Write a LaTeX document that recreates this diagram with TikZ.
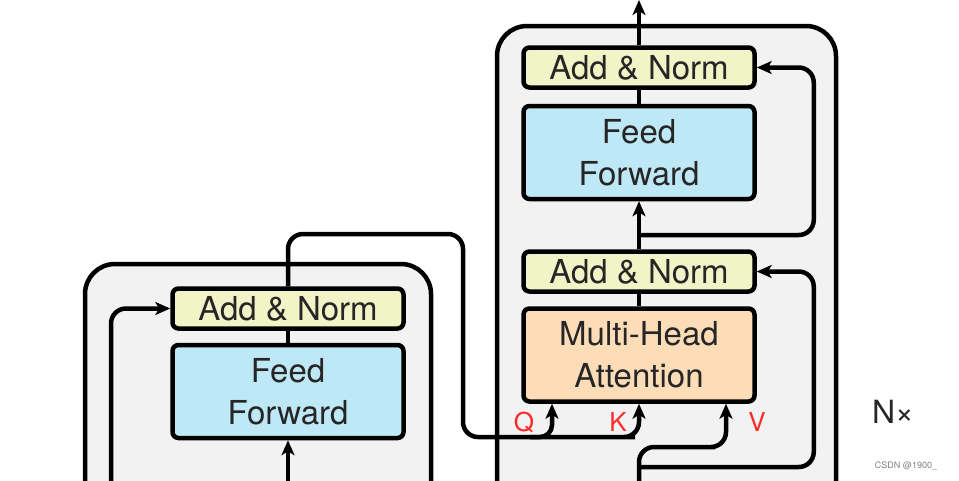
\documentclass[tikz,border=0pt]{standalone}
\usepackage{fontspec}
\setmainfont{TeX Gyre Heros}
\usetikzlibrary{arrows.meta}

\definecolor{blockgray}{HTML}{F2F2F2}
\definecolor{normyellow}{HTML}{F1F4C6}
\definecolor{ffblue}{HTML}{BFE8F6}
\definecolor{attorange}{HTML}{FCDDB8}
\definecolor{qkvred}{HTML}{FF2A2A}

\begin{document}
\begin{tikzpicture}[x=1pt,y=-1pt,
	line width=4.5pt,
	arr/.style={-{Stealth[length=15pt,width=13pt,inset=4pt]}},
	layerbox/.style={draw,rounded corners=6pt,minimum width=231pt,inner sep=0pt,
		font=\fontsize{33}{42}\selectfont,text=black!85,align=center},
	normbox/.style={layerbox,fill=normyellow,minimum height=40pt},
	ffbox/.style={layerbox,fill=ffblue,minimum height=93pt},
	attbox/.style={layerbox,fill=attorange,minimum height=93pt},
	qkv/.style={text=qkvred,font=\fontsize{26}{26}\selectfont}]
	\useasboundingbox (0,0) rectangle (959,480);
	\clip (0,0) rectangle (959,480);
	
	% the two stacks
	\draw[fill=blockgray,rounded corners=30pt] (85,490) -- (85,264) -- (431,264) -- (431,490);
	\draw[fill=blockgray,rounded corners=30pt] (497,490) -- (497,26) -- (836,26) -- (836,490);
	
	% encoder layer
	\node[normbox] (encnorm) at (288,308.5) {Add \& Norm};
	\node[ffbox] (encff) at (288,391.5) {Feed\\Forward};
	
	% decoder layer
	\node[normbox] (decnormb) at (639,67.5) {Add \& Norm};
	\node[ffbox] (decff) at (639,152.5) {Feed\\Forward};
	\node[normbox] (decnorma) at (639,271.5) {Add \& Norm};
	\node[attbox] (mha) at (639,355) {Multi-Head\\Attention};
	
	\coordinate (encin) at (288,490);
	\coordinate (encres) at (111,490);
	\coordinate (decin) at (639,490);
	\coordinate (decout) at (639,0);
	\coordinate (q) at ([xshift=-87pt]mha.south);
	\coordinate (k) at (mha.south);
	\coordinate (v) at ([xshift=87pt]mha.south);
	\coordinate (resa) at (639,467);
	\coordinate (resb) at (639,235);
	
	% encoder connections
	\draw[arr] (encin) -- (encff.south);
	\draw (encff) -- (encnorm);
	\draw[arr,rounded corners=15pt] (encres) |- (encnorm.west);
	\draw[arr,rounded corners=15pt] (encnorm.north) |- (463,234) |- (620,437) -- (639,437) -- (k);
	\draw[arr,rounded corners=12pt] (530,437) -| (q);
	
	% decoder connections
	\draw[arr,rounded corners=15pt] (decin) |- (700,447) -| (v);
	\draw[arr,rounded corners=15pt] (resa) -| ([xshift=57pt]decnorma.east) -- (decnorma.east);
	\draw (mha) -- (decnorma);
	\draw[arr] (decnorma) -- (decff);
	\draw[arr,rounded corners=15pt] (resb) -| ([xshift=57pt]decnormb.east) -- (decnormb.east);
	\draw (decff) -- (decnormb);
	\draw[arr] (decnormb) -- (decout);
	
	% labels
	\node[qkv] (qlabel) at (524,422) {Q};
	\node[qkv] (klabel) at (618,422) {K};
	\node[qkv] (vlabel) at (757,422) {V};
	\node[text=black!85,font=\fontsize{32}{32}\selectfont] (nx) at (893,412) {N×};
	\node[text=black!50,font=\fontsize{9}{9}\selectfont] (mark) at (906,466) {CSDN @1900\_};
\end{tikzpicture}
\end{document}
